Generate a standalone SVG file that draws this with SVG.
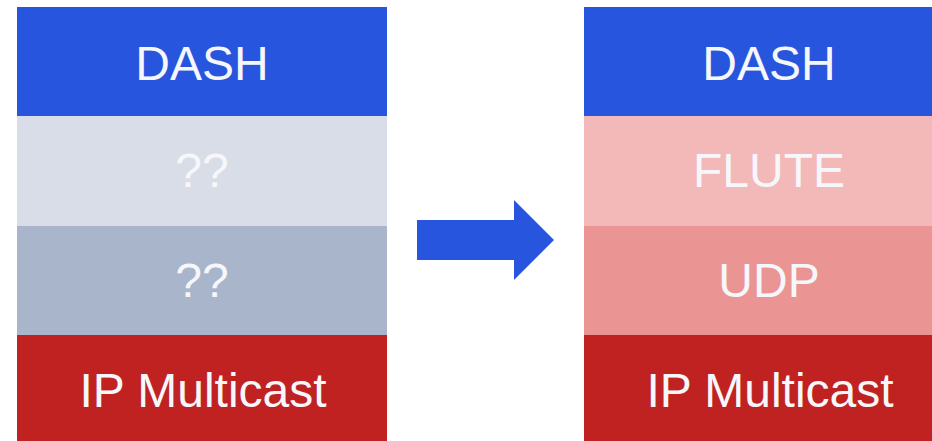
<svg xmlns="http://www.w3.org/2000/svg" width="932" height="441" viewBox="0 0 932 441">
  <style>
    .lbl { font-family: "Liberation Sans", Arial, sans-serif; font-size: 48px; fill: #F6F7FB; text-anchor: middle; }
    .blue { fill: #2855DE; }
    .red { fill: #C02222; }
  </style>
  <rect width="932" height="441" fill="#FFFFFF"/>

  <!-- Left protocol stack -->
  <g id="left-dash">
    <rect class="blue" x="17" y="7" width="370" height="109.5"/>
    <text class="lbl" x="202" y="80">DASH</text>
  </g>
  <g id="left-unknown-1">
    <rect x="17" y="116" width="370" height="110" fill="#D9DDE8"/>
    <text class="lbl" x="202" y="187">??</text>
  </g>
  <g id="left-unknown-2">
    <rect x="17" y="226" width="370" height="109.5" fill="#A9B5CA"/>
    <text class="lbl" x="202" y="297">??</text>
  </g>
  <g id="left-ip-multicast">
    <rect class="red" x="17" y="335" width="370" height="106"/>
    <text class="lbl" x="203" y="407">IP Multicast</text>
  </g>

  <!-- Transition arrow -->
  <g id="connectors">
    <polygon class="blue" points="417,220 514,220 514,200 554,240 514,280 514,260 417,260"/>
  </g>

  <!-- Right protocol stack -->
  <g id="right-dash">
    <rect class="blue" x="584" y="7" width="370" height="109.5"/>
    <text class="lbl" x="769" y="80">DASH</text>
  </g>
  <g id="right-flute">
    <rect x="584" y="116" width="370" height="110" fill="#F3B8B8"/>
    <text class="lbl" x="769" y="187">FLUTE</text>
  </g>
  <g id="right-udp">
    <rect x="584" y="226" width="370" height="109.5" fill="#EA9594"/>
    <text class="lbl" x="769" y="297">UDP</text>
  </g>
  <g id="right-ip-multicast">
    <rect class="red" x="584" y="335" width="370" height="106"/>
    <text class="lbl" x="770" y="407">IP Multicast</text>
  </g>
</svg>
